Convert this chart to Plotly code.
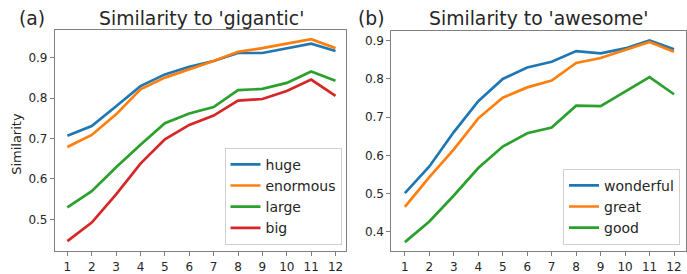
import plotly.graph_objects as go

layers = list(range(1, 13))

# Panel (a): similarity to 'gigantic'
huge = [0.707, 0.731, 0.780, 0.830, 0.859, 0.878, 0.892, 0.912, 0.912, 0.923, 0.935, 0.917]
enormous = [0.679, 0.709, 0.760, 0.822, 0.851, 0.872, 0.892, 0.915, 0.924, 0.935, 0.946, 0.924]
large = [0.530, 0.570, 0.629, 0.685, 0.738, 0.762, 0.778, 0.820, 0.823, 0.838, 0.866, 0.843]
big = [0.446, 0.492, 0.562, 0.638, 0.698, 0.734, 0.757, 0.794, 0.798, 0.818, 0.846, 0.806]

# Panel (b): similarity to 'awesome'
wonderful = [0.501, 0.571, 0.661, 0.742, 0.800, 0.830, 0.845, 0.873, 0.867, 0.880, 0.901, 0.878]
great = [0.465, 0.543, 0.616, 0.697, 0.751, 0.778, 0.796, 0.842, 0.855, 0.876, 0.897, 0.871]
good = [0.373, 0.427, 0.495, 0.567, 0.623, 0.658, 0.673, 0.730, 0.729, 0.767, 0.805, 0.760]

left_series = [("huge", huge), ("enormous", enormous), ("large", large), ("big", big)]
right_series = [("wonderful", wonderful), ("great", great), ("good", good)]
colors = ["#1f77b4", "#ff7f0e", "#2ca02c", "#d62728"]

left_yticks = [0.5, 0.6, 0.7, 0.8, 0.9]
right_yticks = [0.4, 0.5, 0.6, 0.7, 0.8, 0.9]

W, H = 687, 274
FONT = "DejaVu Sans"
TXT = "#262626"
SPINE = "#808080"

fig = go.Figure()
for (name, vals), c in zip(left_series, colors):
    fig.add_trace(go.Scatter(x=layers, y=vals, mode="lines", name=name,
                             line=dict(color=c, width=2.7), xaxis="x", yaxis="y",
                             legend="legend"))
for (name, vals), c in zip(right_series, colors):
    fig.add_trace(go.Scatter(x=layers, y=vals, mode="lines", name=name,
                             line=dict(color=c, width=2.7), xaxis="x2", yaxis="y2",
                             legend="legend2"))

axis_common = dict(showline=True, linecolor=SPINE, linewidth=1, mirror=True,
                   showgrid=False, zeroline=False, ticks="outside", ticklen=4,
                   tickcolor=SPINE, tickwidth=1,
                   tickfont=dict(family=FONT, size=12, color=TXT))

legend_common = dict(yanchor="bottom", xanchor="right", bgcolor="white",
                     bordercolor="#d0d0d0", borderwidth=1,
                     font=dict(family=FONT, size=14, color=TXT),
                     tracegroupgap=0, itemwidth=30)

fig.update_layout(
    width=W, height=H,
    margin=dict(l=0, r=0, t=0, b=0),
    plot_bgcolor="white", paper_bgcolor="white",
    showlegend=True,
    xaxis=dict(domain=[55 / W, 347 / W], range=[0.49, 12.45], tickvals=layers,
               anchor="y", **axis_common),
    yaxis=dict(domain=[1 - 255 / H, 1 - 30 / H], range=[0.421, 0.970],
               tickvals=left_yticks, tickformat=".1f", anchor="x", **axis_common),
    xaxis2=dict(domain=[392 / W, 1.0], range=[0.45, 12.49], tickvals=layers,
                anchor="y2", **axis_common),
    yaxis2=dict(domain=[1 - 255 / H, 1 - 31.3 / H], range=[0.349, 0.926],
                tickvals=right_yticks, tickformat=".1f", anchor="x2", **axis_common),
    legend=dict(x=342 / W, y=1 - 248.3 / H, **legend_common),
    legend2=dict(x=681 / W, y=1 - 248.3 / H, **legend_common),
    annotations=[
        dict(text="Similarity to 'gigantic'", x=202 / W, y=1 - 19 / H, xref="paper",
             yref="paper", showarrow=False, xanchor="center", yanchor="middle",
             font=dict(family=FONT, size=18.8, color=TXT)),
        dict(text="Similarity to 'awesome'", x=539 / W, y=1 - 19 / H, xref="paper",
             yref="paper", showarrow=False, xanchor="center", yanchor="middle",
             font=dict(family=FONT, size=18.8, color=TXT)),
        dict(text="(a)", x=17 / W, y=1 - 19 / H, xref="paper", yref="paper",
             showarrow=False, xanchor="left", yanchor="middle",
             font=dict(family=FONT, size=18.8, color=TXT)),
        dict(text="(b)", x=357 / W, y=1 - 19 / H, xref="paper", yref="paper",
             showarrow=False, xanchor="left", yanchor="middle",
             font=dict(family=FONT, size=18.8, color=TXT)),
        dict(text="Similarity", x=17 / W, y=1 - 146 / H, xref="paper", yref="paper",
             showarrow=False, xanchor="center", yanchor="middle", textangle=-90,
             font=dict(family=FONT, size=13, color=TXT)),
    ],
)

fig.write_html("out.html", config={"displayModeBar": False},
               post_script="document.body.style.margin='0';")
